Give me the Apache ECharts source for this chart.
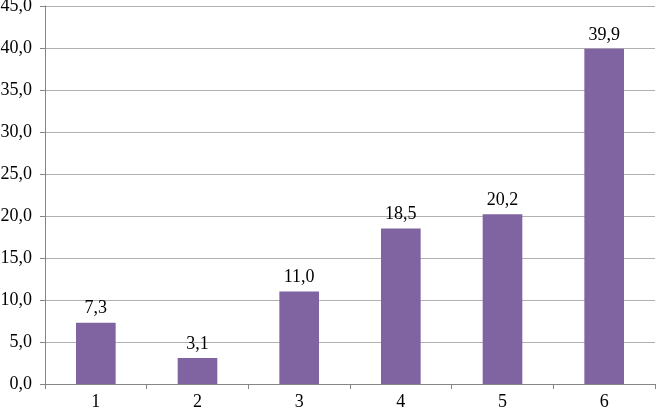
<!DOCTYPE html>
<html><head><meta charset="utf-8">
<script src="https://cdn.jsdelivr.net/npm/echarts@6/dist/echarts.min.js"></script>
<style>html,body{margin:0;padding:0;background:#fff}#c{width:656px;height:412px}</style>
</head><body><div id="c"></div>
<script>
var categories = ['1','2','3','4','5','6'];
var values = [7.3, 3.1, 11.0, 18.5, 20.2, 39.9];
var yMin = 0, yMax = 45, yStep = 5;
function fmt(v){ return v.toFixed(1).replace('.', ','); }
var chart = echarts.init(document.getElementById('c'));
chart.setOption({
  animation: false,
  grid: {left: 45, right: 1, top: 6, bottom: 28, containLabel: false, outerBoundsMode: 'none'},
  xAxis: {
    type: 'category', data: categories,
    axisLine: {lineStyle: {color: '#868686'}},
    axisTick: {show: true, alignWithLabel: false, length: 5, lineStyle: {color: '#868686'}},
    axisLabel: {color: '#000', fontFamily: 'Liberation Serif', fontSize: 18, margin: 9}
  },
  yAxis: {
    type: 'value', min: yMin, max: yMax, interval: yStep,
    axisLine: {show: true, lineStyle: {color: '#868686'}},
    axisTick: {show: true, length: 5, lineStyle: {color: '#868686'}},
    splitLine: {lineStyle: {color: '#b0b0b0'}},
    axisLabel: {color: '#000', fontFamily: 'Liberation Serif', fontSize: 18, margin: 13, formatter: fmt}
  },
  series: [{
    type: 'bar', data: values, barWidth: '39%',
    itemStyle: {color: '#8064A2'},
    label: {show: true, position: 'top', distance: 5, color: '#000', fontFamily: 'Liberation Serif', fontSize: 18,
      formatter: function(p){ return fmt(p.value); }}
  }]
});
</script></body></html>
